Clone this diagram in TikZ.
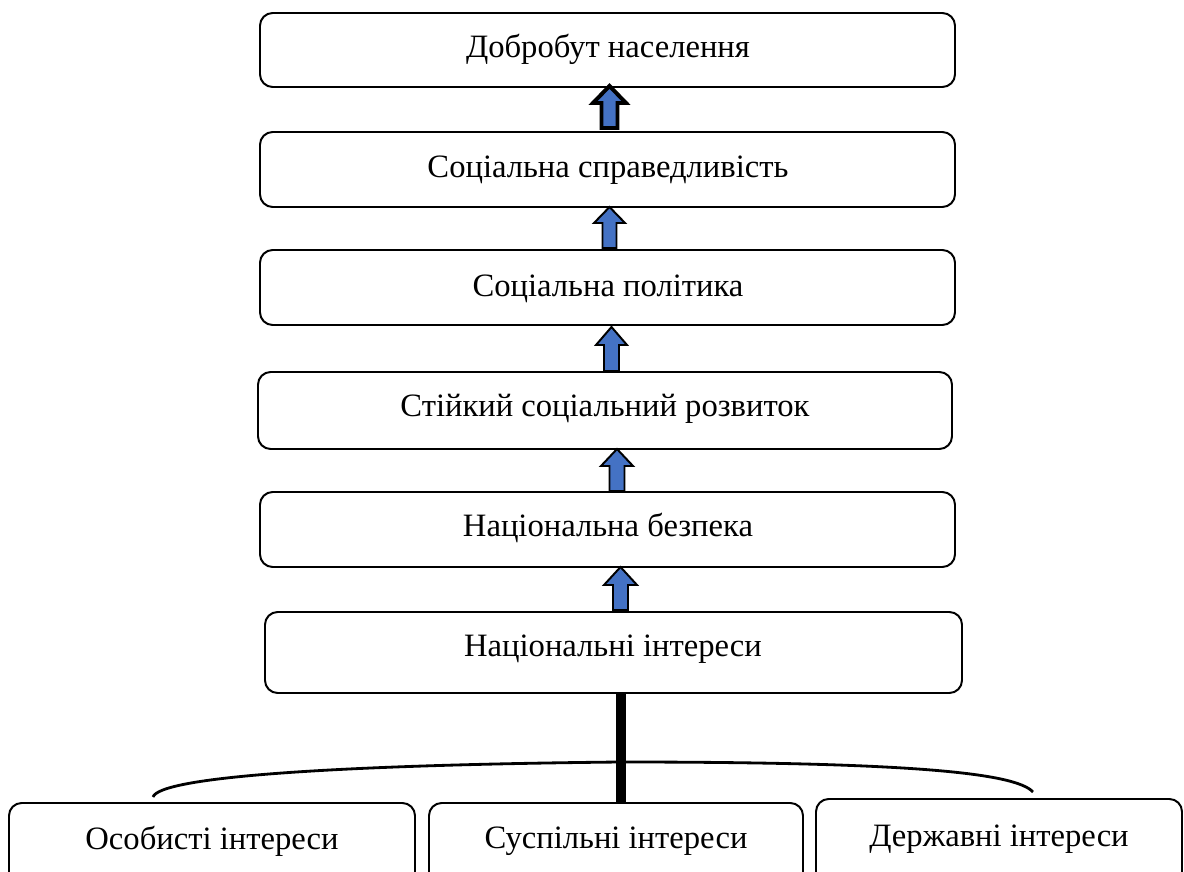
\documentclass[tikz,border=0pt]{standalone}
\usepackage{fontspec}
\setmainfont{Liberation Serif}
\definecolor{arrowblue}{HTML}{4472C4}
\newcommand\uparr[7]{% cx, tip, bottom, headbase, shaft half, head half, line width
  \draw[line width=#7, fill=arrowblue, line join=miter]
    (#1,#2) -- (#1+#6,#4) -- (#1+#5,#4) -- (#1+#5,#3) -- (#1-#5,#3)
    -- (#1-#5,#4) -- (#1-#6,#4) -- cycle;}
\begin{document}
\begin{tikzpicture}[x=0.025cm,y=-0.025cm,
  box/.style={draw, line width=1.4pt, rounded corners=9pt, inner sep=0pt},
  lbl/.style={font=\fontsize{23.2}{27}\selectfont, inner sep=0pt}]
\useasboundingbox (0,0) rectangle (1184,872);
\clip (0,0) rectangle (1184,872);
% main column
\node[box, minimum width=695*0.025cm, minimum height=74*0.025cm] (b1) at (607.5,50) {};
\node[lbl] at (608,49) {Добробут населення};
\node[box, minimum width=695*0.025cm, minimum height=75*0.025cm] (b2) at (607.5,169.5) {};
\node[lbl] at (608,170) {Соціальна справедливість};
\node[box, minimum width=695*0.025cm, minimum height=75*0.025cm] (b3) at (607.5,287.5) {};
\node[lbl] at (608,289) {Соціальна політика};
\node[box, minimum width=694*0.025cm, minimum height=77*0.025cm] (b4) at (605,410.5) {};
\node[lbl] at (605,409) {Стійкий соціальний розвиток};
\node[box, minimum width=695*0.025cm, minimum height=75*0.025cm] (b5) at (607.5,529.5) {};
\node[lbl] at (608,528) {Національна безпека};
\node[box, minimum width=697*0.025cm, minimum height=81*0.025cm] (b6) at (613.5,652.5) {};
\node[lbl] at (613,649) {Національні інтереси};
% bottom boxes (cut by the page edge)
\node[box, minimum width=406*0.025cm, minimum height=140*0.025cm] (l) at (212,873) {};
\node[lbl] at (212,841) {Особисті інтереси};
\node[box, minimum width=374*0.025cm, minimum height=140*0.025cm] (m) at (616,873) {};
\node[lbl] at (616,841) {Суспільні інтереси};
\node[box, minimum width=366*0.025cm, minimum height=148*0.025cm] (r) at (999,873) {};
\node[lbl] at (999,839) {Державні інтереси};
% block arrows
\uparr{609.5}{86}{128}{103}{8}{16.5}{2.8pt}
\uparr{609.5}{207}{248}{223}{7}{15.5}{1.4pt}
\uparr{611.5}{327}{371}{345}{7.5}{15.5}{1.4pt}
\uparr{617}{449}{491}{466}{7.5}{16}{1.4pt}
\uparr{620.5}{567}{610}{585}{7.5}{16.5}{1.4pt}
% thick stem and brace curve
\coordinate (stemtop) at (621,693);
\draw[line width=7.1pt] (stemtop) -- (stemtop |- m.north);
\coordinate (cl) at (153,797);
\coordinate (cr) at (1033,792);
\draw[line width=2pt] (cl) .. controls (160,777) and (330,765) .. (620,762)
  .. controls (900,762) and (1015,772) .. (cr);
\end{tikzpicture}
\end{document}
